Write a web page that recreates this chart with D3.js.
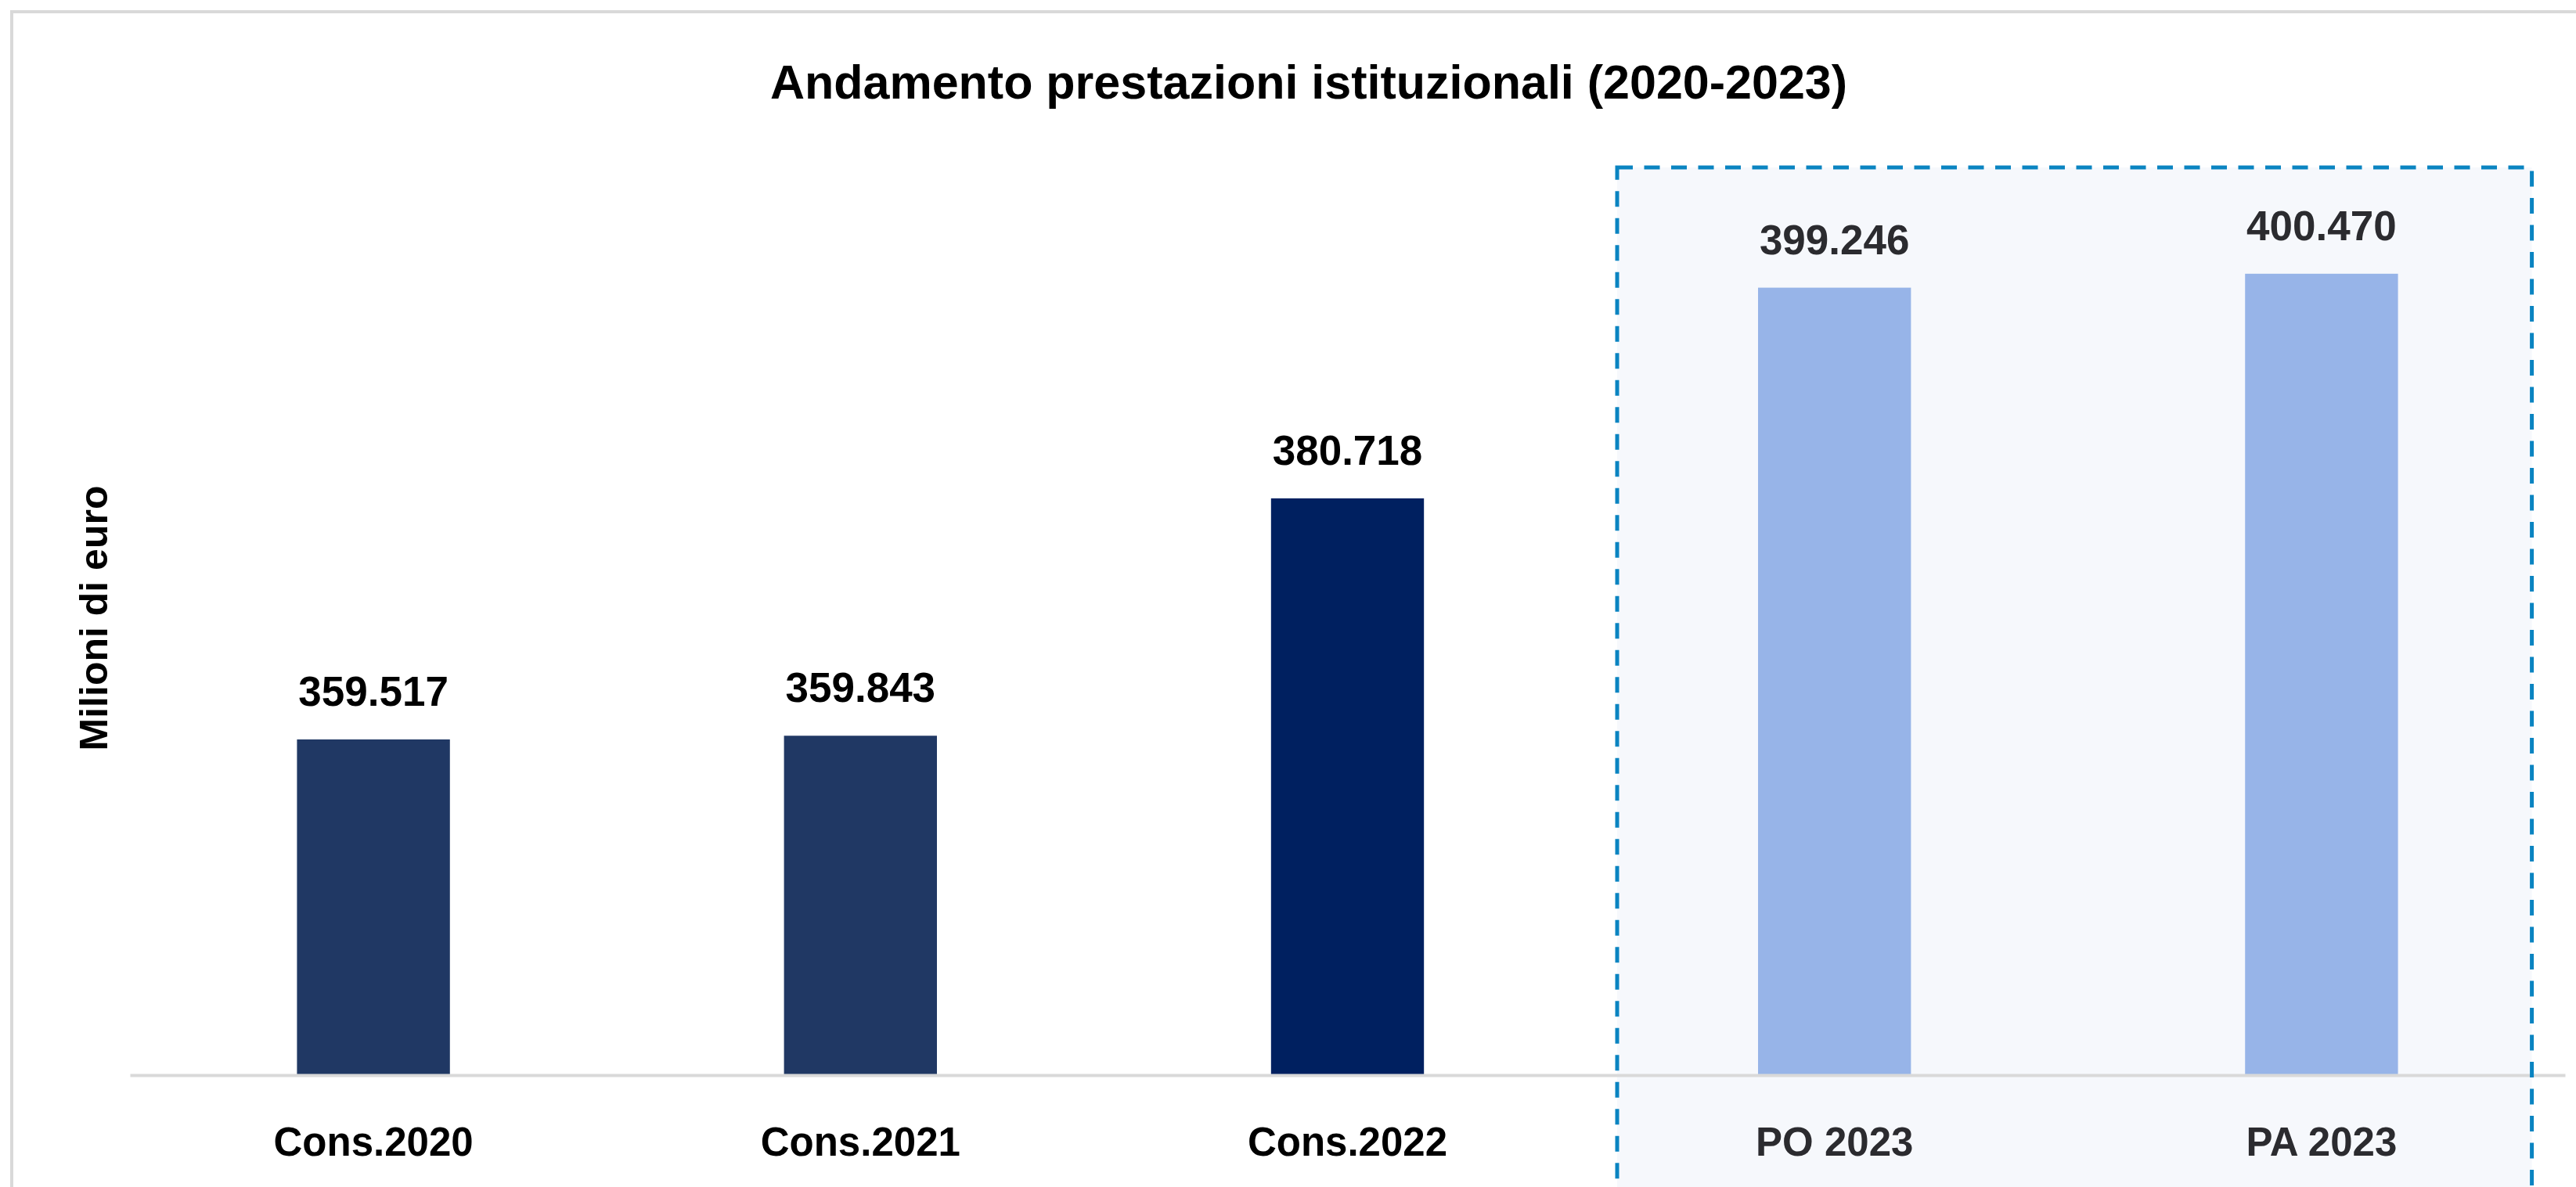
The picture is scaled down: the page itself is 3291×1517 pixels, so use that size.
<html>
<head>
<meta charset="utf-8">
<script src="https://d3js.org/d3.v7.min.js"></script>
<style>
  body { margin: 0; background: #ffffff; }
  text { font-family: "Liberation Sans", Arial, sans-serif; font-weight: bold; }
</style>
</head>
<body>
<svg id="chart" width="3291" height="1517"></svg>
<script>

const categories = ["Cons.2020", "Cons.2021", "Cons.2022", "PO 2023", "PA 2023"];
const values = [359.517, 359.843, 380.718, 399.246, 400.470];
const valueLabels = ["359.517", "359.843", "380.718", "399.246", "400.470"];
const barColors = ["#203864", "#203864", "#002060", "#97b4e8", "#97b4e8"];
const textColors = ["#000000", "#000000", "#000000", "#2b2b2f", "#2b2b2f"];

const svg = d3.select("#chart");

// outer frame
svg.append("rect")
  .attr("x", 0).attr("y", 0)
  .attr("width", 3291).attr("height", 1517)
  .attr("fill", "#ffffff");

svg.append("line")
  .attr("x1", 13).attr("x2", 3291)
  .attr("y1", 15).attr("y2", 15)
  .attr("stroke", "#d9d9d9").attr("stroke-width", 4);

svg.append("line")
  .attr("x1", 15).attr("x2", 15)
  .attr("y1", 13).attr("y2", 1517)
  .attr("stroke", "#d9d9d9").attr("stroke-width", 4);

var x = d3.scaleBand()
  .domain(categories)
  .range([166, 3277])
  .paddingInner(0.686)
  .paddingOuter(0.343);

var y = d3.scaleLinear()
  .domain([330, 420])
  .range([1374, 66]);

// highlighted box for 2023 forecasts
var boxLeft = x("PO 2023") - 180;
var boxRight = x("PA 2023") + x.bandwidth() + 171;

svg.append("rect")
  .attr("x", boxLeft)
  .attr("y", 214)
  .attr("width", boxRight - boxLeft)
  .attr("height", 1306)
  .attr("fill", "#f6f8fc");

svg.append("g")
  .selectAll("rect")
  .data(values)
  .enter()
  .append("rect")
  .attr("x", function(d, i) { return x(categories[i]); })
  .attr("y", function(d) { return y(d); })
  .attr("width", x.bandwidth())
  .attr("height", function(d) { return y(330) - y(d); })
  .attr("fill", function(d, i) { return barColors[i]; });

// baseline axis
var xAxis = svg.append("g")
  .attr("transform", "translate(0," + y(330) + ")")
  .call(d3.axisBottom(x).tickSize(0).tickPadding(67));

xAxis.select(".domain")
  .attr("stroke", "#d9d9d9")
  .attr("stroke-width", 4);

xAxis.selectAll(".tick text")
  .attr("font-size", "51px")
  .attr("font-family", "Liberation Sans, Arial, sans-serif")
  .attr("font-weight", "bold")
  .attr("fill", function(d, i) { return textColors[i]; });

svg.append("rect")
  .attr("x", boxLeft)
  .attr("y", 214)
  .attr("width", boxRight - boxLeft)
  .attr("height", 1306)
  .attr("fill", "none")
  .attr("stroke", "#0a84c1")
  .attr("stroke-width", 5)
  .attr("stroke-dasharray", "20,14.5");

svg.append("g")
  .selectAll("text")
  .data(values)
  .enter()
  .append("text")
  .attr("x", function(d, i) { return x(categories[i]) + x.bandwidth() / 2; })
  .attr("y", function(d) { return y(d) - 43; })
  .attr("text-anchor", "middle")
  .attr("font-size", "53px")
  .attr("fill", function(d, i) { return textColors[i]; })
  .text(function(d, i) { return valueLabels[i]; });

svg.append("text")
  .attr("x", 1672)
  .attr("y", 126)
  .attr("text-anchor", "middle")
  .style("font-size", "61px")
  .attr("fill", "#000000")
  .text("Andamento prestazioni istituzionali (2020-2023)");

svg.append("text")
  .attr("transform", "translate(137,790) rotate(-90)")
  .attr("text-anchor", "middle")
  .style("font-size", "50px")
  .attr("fill", "#000000")
  .text("Milioni di euro");

</script>
</body>
</html>
